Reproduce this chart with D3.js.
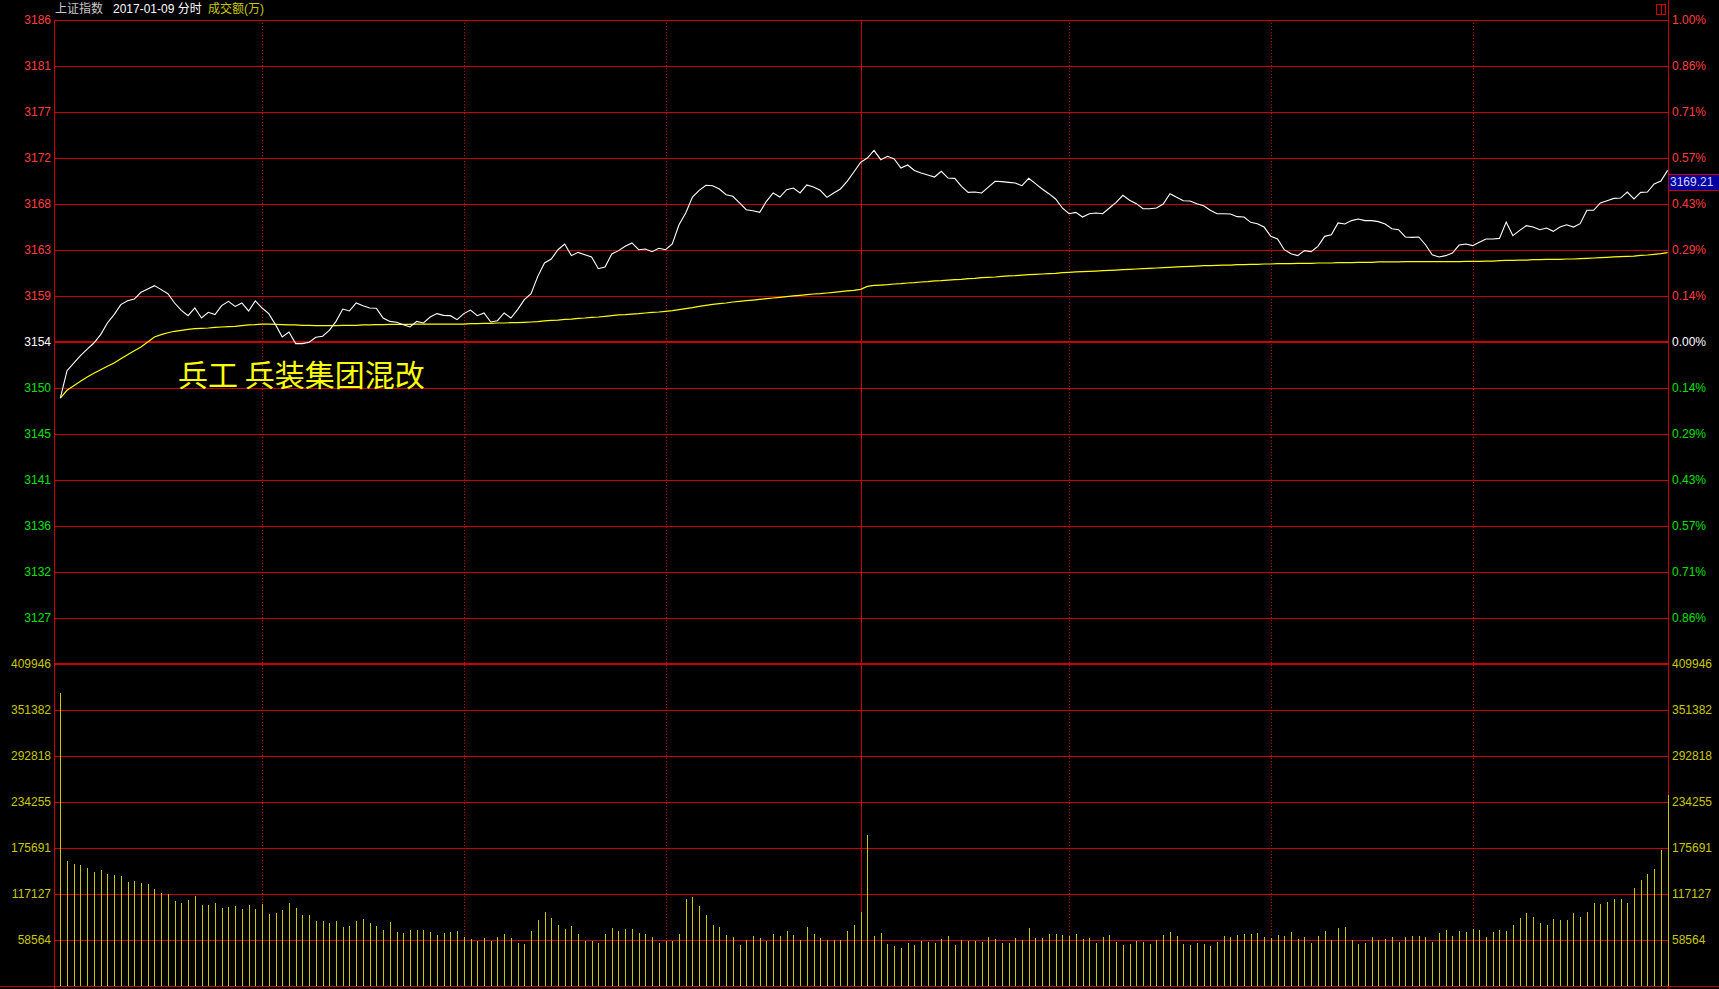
<!DOCTYPE html>
<html><head><meta charset="utf-8">
<script src="https://cdn.jsdelivr.net/npm/d3@7"></script>
<style>body{margin:0;background:#000;overflow:hidden}svg{display:block}</style>
</head><body><svg id="c" width="1719" height="989"></svg>
<script>
// ---------- data ----------
const preClose = 3154.32;
const priceTickLabels = ["3186","3181","3177","3172","3168","3163","3159","3154","3150","3145","3141","3136","3132","3127"];
const pctTickLabels = ["1.00%","0.86%","0.71%","0.57%","0.43%","0.29%","0.14%","0.00%","0.14%","0.29%","0.43%","0.57%","0.71%","0.86%"];
const volTicks = [58564,117127,175691,234255,292818,351382,409946];
const timeMarks = [30,60,90,119,150,180,210];
const middayMark = 119;
const titleText = "上证指数";
const dateText = "2017-01-09 分时";
const volText = "成交额(万)";
const noteText = "兵工 兵装集团混改";
const lastPriceLabel = "3169.21";

const price = [
3148.83,3151.51,3152.26,3152.98,3153.63,3154.22,3155.04,3156.18,3157.00,3157.98,
3158.37,3158.53,3159.19,3159.51,3159.84,3159.45,3159.05,3158.14,3157.42,3156.90,
3157.65,3156.67,3157.23,3157.00,3157.88,3158.30,3157.81,3158.14,3157.36,3158.34,
3157.65,3157.10,3156.02,3154.81,3155.30,3154.16,3154.16,3154.29,3154.78,3154.88,
3155.46,3156.34,3157.55,3157.36,3158.14,3157.88,3157.65,3157.62,3156.67,3156.34,
3156.25,3156.02,3155.79,3156.34,3156.18,3156.77,3157.10,3156.93,3156.90,3156.51,
3157.10,3157.45,3156.90,3157.16,3156.28,3156.41,3157.16,3156.67,3157.49,3158.47,
3159.05,3160.75,3162.06,3162.45,3163.36,3163.92,3162.78,3163.10,3162.87,3162.65,
3161.50,3161.67,3162.94,3163.27,3163.69,3164.02,3163.36,3163.43,3163.17,3163.50,
3163.36,3163.92,3165.81,3166.96,3168.52,3169.18,3169.67,3169.63,3169.31,3168.75,
3168.59,3167.94,3167.28,3167.18,3167.02,3168.10,3168.92,3168.52,3169.24,3169.40,
3168.92,3169.70,3169.50,3169.18,3168.49,3168.92,3169.31,3170.06,3170.97,3171.92,
3172.34,3173.09,3172.18,3172.51,3172.25,3171.36,3171.66,3171.13,3170.87,3170.68,
3170.48,3171.04,3170.38,3170.35,3169.57,3168.98,3169.01,3168.92,3169.50,3170.06,
3170.03,3169.96,3169.89,3169.63,3170.35,3169.83,3169.31,3168.85,3168.33,3167.45,
3166.89,3167.02,3166.56,3166.89,3166.96,3166.89,3167.45,3168.00,3168.69,3168.20,
3167.87,3167.38,3167.38,3167.45,3167.84,3168.85,3168.49,3168.16,3168.13,3167.87,
3167.67,3167.22,3166.89,3166.89,3166.86,3166.60,3166.56,3166.04,3165.91,3165.58,
3164.67,3164.41,3163.36,3162.97,3162.78,3163.27,3163.17,3163.69,3164.67,3164.83,
3165.98,3165.88,3166.21,3166.37,3166.21,3166.21,3166.11,3165.88,3165.42,3165.32,
3164.61,3164.57,3164.61,3163.85,3162.87,3162.65,3162.78,3163.04,3163.82,3163.92,
3163.76,3164.08,3164.41,3164.41,3164.47,3166.07,3164.74,3165.26,3165.72,3165.58,
3165.32,3165.49,3165.16,3165.58,3165.81,3165.58,3165.91,3167.22,3167.22,3167.94,
3168.16,3168.39,3168.42,3169.01,3168.33,3168.98,3169.01,3169.80,3170.09,3171.13
];

const avgPrice = [
3148.83,3149.59,3150.04,3150.47,3150.89,3151.25,3151.61,3151.94,3152.26,3152.69,
3153.08,3153.47,3153.83,3154.32,3154.81,3155.04,3155.23,3155.37,3155.46,3155.56,
3155.63,3155.66,3155.69,3155.76,3155.79,3155.82,3155.85,3155.92,3155.99,3156.02,
3156.08,3156.08,3156.05,3156.02,3155.99,3155.99,3155.95,3155.95,3155.92,3155.92,
3155.92,3155.92,3155.95,3155.95,3155.95,3155.99,3155.99,3156.02,3156.02,3156.05,
3156.05,3156.05,3156.05,3156.08,3156.08,3156.08,3156.08,3156.08,3156.08,3156.08,
3156.08,3156.12,3156.12,3156.15,3156.15,3156.18,3156.18,3156.21,3156.21,3156.25,
3156.28,3156.31,3156.38,3156.44,3156.47,3156.54,3156.57,3156.64,3156.67,3156.74,
3156.77,3156.83,3156.90,3156.97,3157.00,3157.06,3157.10,3157.16,3157.23,3157.26,
3157.32,3157.39,3157.49,3157.59,3157.68,3157.81,3157.91,3158.01,3158.08,3158.14,
3158.24,3158.30,3158.37,3158.43,3158.50,3158.57,3158.63,3158.70,3158.76,3158.83,
3158.89,3158.96,3159.02,3159.05,3159.12,3159.19,3159.25,3159.32,3159.38,3159.48,
3159.77,3159.87,3159.90,3159.94,3160.00,3160.03,3160.10,3160.13,3160.20,3160.23,
3160.30,3160.33,3160.39,3160.43,3160.46,3160.52,3160.56,3160.62,3160.65,3160.69,
3160.75,3160.79,3160.82,3160.88,3160.92,3160.95,3160.98,3161.01,3161.05,3161.11,
3161.14,3161.18,3161.21,3161.24,3161.27,3161.31,3161.34,3161.37,3161.41,3161.44,
3161.47,3161.50,3161.54,3161.57,3161.60,3161.63,3161.67,3161.70,3161.73,3161.76,
3161.80,3161.80,3161.83,3161.86,3161.86,3161.90,3161.90,3161.93,3161.93,3161.96,
3161.96,3161.99,3161.99,3161.99,3162.03,3162.03,3162.03,3162.06,3162.06,3162.06,
3162.09,3162.09,3162.09,3162.12,3162.12,3162.12,3162.16,3162.16,3162.16,3162.16,
3162.19,3162.19,3162.19,3162.19,3162.19,3162.19,3162.19,3162.19,3162.19,3162.22,
3162.22,3162.22,3162.25,3162.25,3162.29,3162.32,3162.32,3162.35,3162.35,3162.39,
3162.39,3162.42,3162.42,3162.42,3162.45,3162.45,3162.48,3162.52,3162.55,3162.58,
3162.61,3162.65,3162.68,3162.71,3162.74,3162.81,3162.84,3162.91,3162.97,3163.07
];

const volume = [
373400,159600,155800,154500,150700,145600,148100,143000,141800,140500,
132800,134100,131600,130300,123900,118800,117600,108600,106100,109900,
115000,103600,103600,106100,99700,101000,102300,98500,103600,98500,
104800,92100,93400,97200,106100,99700,90800,90800,83200,83200,
80600,83200,75500,76800,83200,85700,80600,76800,71700,81900,
69200,67900,71700,71700,71700,69200,65400,67900,69200,70500,
62800,60300,57700,61500,57700,62800,66600,61500,55200,53900,
70500,84500,94600,87000,78100,73000,76800,66600,57700,57700,
55200,66600,74300,70500,73000,73000,67900,66600,62800,55200,
57700,57700,66600,111200,113700,102300,90800,78100,75500,65400,
62800,52600,59000,64100,61500,57700,66600,64100,70500,65400,
59000,75500,66600,61500,59000,59000,59000,70500,78100,94600,
192700,64100,67900,53900,51400,48800,55200,52600,57700,56400,
55200,60300,64100,52600,59000,57700,57700,56400,62800,60300,
55200,55200,61500,59000,74300,61500,61500,66600,66600,65400,
64100,66600,60300,61500,55200,62800,65400,56400,52600,53900,
57700,56400,53900,59000,65400,69200,64100,53900,52600,55200,
53900,51400,56400,64100,62800,65400,66600,66600,67900,62800,
61500,65400,64100,69200,60300,62800,55200,64100,70500,59000,
74300,75500,59000,53900,55200,62800,59000,60300,62800,56400,
62800,64100,64100,62800,56400,67900,71700,64100,70500,69200,
73000,71700,62800,69200,71700,70500,78100,87000,93400,88300,
80600,78100,85700,84500,84500,93400,88300,94600,106100,104800,
107400,111200,111200,106100,125200,135400,143000,149400,173600,243200
];

// ---------- layout ----------
const svg = d3.select("#c");
const L = 54, R = 1668, TOP = 20, MID = 664, BOT = 986;
const GRID = "#c80000", UP = "#ff3c3c", DOWN = "#00e000", FLAT = "#ffffff", VOLC = "#c8c800";
const FONT = "'Liberation Sans', Arial, 'Noto Sans CJK SC', sans-serif";

svg.append("rect").attr("width",1719).attr("height",989).attr("fill","#000");

const step = preClose * 0.01 / 7;
const y = d3.scaleLinear().domain([preClose - 7*step, preClose + 7*step]).range([MID, TOP]);
const yv = d3.scaleLinear().domain([0, volTicks[volTicks.length-1]]).range([BOT, MID]);
const x = d3.scaleLinear().domain([0, price.length - 1]).range([60.3, 1667.6]);

const g = svg.append("g");
const crisp = v => Math.round(v) + 0.5;

// price grid lines + labels
priceTickLabels.forEach((lab, i) => {
  const k = 7 - i;
  const val = preClose + k*step;
  const yy = y(val);
  const thick = k === 0;
  g.append("line").attr("x1", L).attr("x2", R)
    .attr("y1", thick ? Math.round(yy) : crisp(yy)).attr("y2", thick ? Math.round(yy) : crisp(yy))
    .attr("stroke", GRID).attr("stroke-width", thick ? 2 : 1).attr("shape-rendering","crispEdges");
  const col = k > 0 ? UP : (k < 0 ? DOWN : FLAT);
  g.append("text").attr("x", 51).attr("y", yy + 1).attr("text-anchor","end")
    .attr("dominant-baseline","middle").attr("fill", col)
    .style("font", `12px ${FONT}`).text(lab);
  g.append("text").attr("x", 1672).attr("y", yy + 1).attr("text-anchor","start")
    .attr("dominant-baseline","middle").attr("fill", col)
    .style("font", `12px ${FONT}`).text(pctTickLabels[i]);
});

// volume grid lines + labels
volTicks.forEach((v, i) => {
  const yy = yv(v);
  const thick = i === volTicks.length - 1;
  g.append("line").attr("x1", L).attr("x2", R)
    .attr("y1", thick ? Math.round(yy) : crisp(yy)).attr("y2", thick ? Math.round(yy) : crisp(yy))
    .attr("stroke", GRID).attr("stroke-width", thick ? 2 : 1).attr("shape-rendering","crispEdges");
  g.append("text").attr("x", 51).attr("y", yy + 1).attr("text-anchor","end")
    .attr("dominant-baseline","middle").attr("fill", VOLC)
    .style("font", `12px ${FONT}`).text(v);
  g.append("text").attr("x", 1672).attr("y", yy + 1).attr("text-anchor","start")
    .attr("dominant-baseline","middle").attr("fill", VOLC)
    .style("font", `12px ${FONT}`).text(v);
});
// bottom border
g.append("line").attr("x1", 0).attr("x2", 1719).attr("y1", crisp(yv(0))).attr("y2", crisp(yv(0)))
  .attr("stroke", GRID).attr("shape-rendering","crispEdges");

// vertical time lines
timeMarks.forEach(t => {
  const xx = crisp(x(t));
  g.append("line").attr("x1", xx).attr("x2", xx).attr("y1", TOP).attr("y2", BOT)
    .attr("stroke", GRID).attr("stroke-width", 1)
    .attr("stroke-dasharray", t === middayMark ? null : "1,2")
    .attr("shape-rendering","crispEdges");
});
// axes borders
g.append("line").attr("x1", L+0.5).attr("x2", L+0.5).attr("y1", TOP).attr("y2", 989)
  .attr("stroke", GRID).attr("shape-rendering","crispEdges");
g.append("line").attr("x1", R+0.5).attr("x2", R+0.5).attr("y1", 0).attr("y2", 989)
  .attr("stroke", GRID).attr("shape-rendering","crispEdges");

// volume bars
svg.append("g").selectAll("line").data(volume).join("line")
  .attr("x1", (d,i) => crisp(x(i))).attr("x2", (d,i) => crisp(x(i)))
  .attr("y1", yv(0)).attr("y2", d => yv(d))
  .attr("stroke", VOLC).attr("stroke-width", 1).attr("shape-rendering","crispEdges");

// avg line & price line
const line = d3.line().x((d,i) => x(i)).y(d => y(d));
svg.append("path").datum(avgPrice).attr("d", line)
  .attr("fill","none").attr("stroke","#ffff00").attr("stroke-width",1.2);
svg.append("path").datum(price).attr("d", line)
  .attr("fill","none").attr("stroke","#ffffff").attr("stroke-width",1.1);

// header
const hdr = svg.append("text").attr("y", 10).attr("dominant-baseline","middle")
  .style("font", `12px ${FONT}`);
hdr.append("tspan").attr("x", 55).attr("fill","#c8c8c8").text(titleText);
hdr.append("tspan").attr("x", 113).attr("fill","#ffffff").text(dateText);
hdr.append("tspan").attr("x", 208).attr("fill", VOLC).text(volText);

// small icon top right
svg.append("rect").attr("x", 1656.5).attr("y", 4.5).attr("width", 9).attr("height", 10)
  .attr("fill","none").attr("stroke", GRID).attr("shape-rendering","crispEdges");
svg.append("line").attr("x1", 1661.5).attr("x2", 1661.5).attr("y1", 4.5).attr("y2", 14.5)
  .attr("stroke", GRID).attr("shape-rendering","crispEdges");

// last price label
svg.append("rect").attr("x", 1668.5).attr("y", 174.5).attr("width", 52).attr("height", 16)
  .attr("fill","#0000a0").attr("stroke", GRID).attr("shape-rendering","crispEdges");
svg.append("text").attr("x", 1670).attr("y", 183).attr("dominant-baseline","middle")
  .attr("fill","#d8d8ff").style("font", `12px ${FONT}`).text(lastPriceLabel);

// annotation
svg.append("text").attr("x", 178).attr("y", 373).attr("dominant-baseline","central")
  .attr("fill","#ffff00").style("font", "30px 'Noto Sans CJK SC', sans-serif").text(noteText);
</script>
</body></html>
